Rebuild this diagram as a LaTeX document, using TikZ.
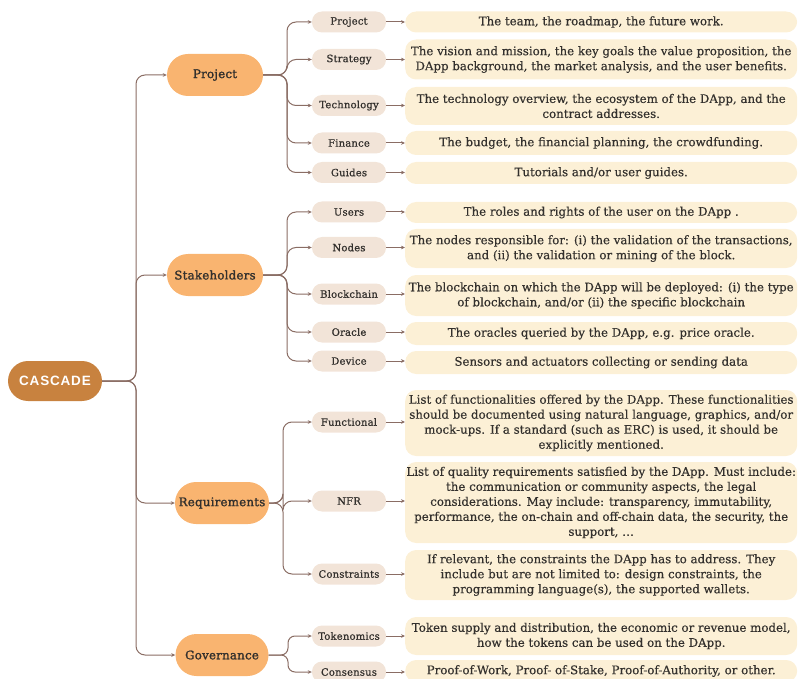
\documentclass[tikz,border=0pt]{standalone}
\usepackage{fontspec}
\setmainfont{DejaVu Serif}
\newfontfamily\rootfont[LetterSpace=6]{Liberation Sans}
\newfontfamily\notefont[FakeBold=0.4]{DejaVu Serif}
\newfontfamily\subfont[FakeBold=0.8,LetterSpace=2]{DejaVu Serif}
\newfontfamily\topicfont[FakeBold=1.6,LetterSpace=2]{DejaVu Serif}
\usetikzlibrary{arrows.meta}

\definecolor{rootfill}{HTML}{C8823F}
\definecolor{topicfill}{HTML}{F9B470}
\definecolor{subfill}{HTML}{F2E4D8}
\definecolor{notefill}{HTML}{FCF0D6}
\definecolor{linec}{HTML}{8A6D64}
\definecolor{ink}{HTML}{33302D}

\begin{document}
\begin{tikzpicture}[x=1pt,y=-1pt,
  rootnode/.style={fill=rootfill, rounded corners=20pt, minimum width=94pt,
    minimum height=40pt, inner sep=0pt, text=white,
    font=\rootfont\bfseries\fontsize{13.5}{16}\selectfont},
  topic/.style={fill=topicfill, rounded corners=21pt, minimum width=96pt,
    minimum height=42pt, inner sep=0pt, text=ink,
    font=\topicfont\fontsize{11.8}{14}\selectfont},
  sub/.style={fill=subfill, rounded corners=10pt, minimum width=74pt,
    minimum height=21pt, inner sep=0pt, text=ink,
    font=\subfont\fontsize{10}{12}\selectfont},
  note/.style={fill=notefill, rounded corners=11pt, minimum width=392pt,
    inner sep=0pt, anchor=west, align=center, text=ink,
    font=\notefont\fontsize{11.8}{15}\selectfont},
  conn/.style={draw=linec, line width=1pt, rounded corners=9pt,
    -{Stealth[length=4pt,width=3.6pt]}},
]
\useasboundingbox (0,0) rectangle (798,679);

% root and main topics
\node[rootnode] (root) at (55,381) {CASCADE};
\node[topic] (proj)  at (215,75)  {Project};
\node[topic] (stake) at (215,275) {Stakeholders};
\node[topic, minimum width=94pt] (req) at (222,503) {Requirements};
\node[topic, minimum width=93pt] (gov) at (222,655) {Governance};

% subtopics
\node[sub] (pProj)  at (349,22)    {Project};
\node[sub] (pStrat) at (349,59.5)  {Strategy};
\node[sub] (pTech)  at (349,105.5) {Technology};
\node[sub] (pFin)   at (349,143)   {Finance};
\node[sub] (pGuide) at (349,172.5) {Guides};

\node[sub] (sUsers) at (349,212)   {Users};
\node[sub] (sNodes) at (349,247.5) {Nodes};
\node[sub] (sBlock) at (349,294)   {Blockchain};
\node[sub] (sOrac)  at (349,332)   {Oracle};
\node[sub] (sDev)   at (349,361)   {Device};

\node[sub] (rFunc)  at (349,422)   {Functional};
\node[sub] (rNFR)   at (349,501)   {NFR};
\node[sub] (rCons)  at (349,574)   {Constraints};

\node[sub] (gTok)   at (349,636)   {Tokenomics};
\node[sub] (gCons)  at (349,672)   {Consensus};

% descriptions
\node[note, minimum height=21pt] (n1) at (405,22)
  {The team, the roadmap, the future work.};
\node[note, minimum height=40pt] (n2) at (405,59.5)
  {The vision and mission, the key goals the value proposition, the\\
   DApp background, the market analysis, and the user benefits.};
\node[note, minimum height=38pt] (n3) at (405,106)
  {The technology overview, the ecosystem of the DApp, and the\\
   contract addresses.};
\node[note, minimum height=24pt] (n4) at (405,143)
  {The budget, the financial planning, the crowdfunding.};
\node[note, minimum height=22pt] (n5) at (405,173)
  {Tutorials and/or user guides.};

\node[note, minimum height=21pt] (n6) at (405,212.5)
  {The roles and rights of the user on the DApp .};
\node[note, minimum height=39pt] (n7) at (405,248.5)
  {The nodes responsible for: (i) the validation of the transactions,\\
   and (ii) the validation or mining of the block.};
\node[note, minimum height=41pt] (n8) at (405,295.5)
  {The blockchain on which the DApp will be deployed: (i) the type\\
   of blockchain, and/or (ii) the specific blockchain};
\node[note, minimum height=23pt] (n9) at (405,333.5)
  {The oracles queried by the DApp, e.g. price oracle.};
\node[note, minimum height=23pt] (n10) at (405,362.5)
  {Sensors and actuators collecting or sending data};

\node[note, minimum height=66pt] (n11) at (405,423)
  {List of functionalities offered by the DApp. These functionalities\\
   should be documented using natural language, graphics, and/or\\
   mock-ups. If a standard (such as ERC) is used, it should be\\
   explicitly mentioned.};
\node[note, minimum height=81pt] (n12) at (405,502.5)
  {List of quality requirements satisfied by the DApp. Must include:\\
   the communication or community aspects, the legal\\
   considerations. May include: transparency, immutability,\\
   performance, the on-chain and off-chain data, the security, the\\
   support, \ldots};
\node[note, minimum height=50pt] (n13) at (405,575)
  {If relevant, the constraints the DApp has to address. They\\
   include but are not limited to: design constraints, the\\
   programming language(s), the supported wallets.};

\node[note, minimum height=38pt] (n14) at (405,636)
  {Token supply and distribution, the economic or revenue model,\\
   how the tokens can be used on the DApp.};
\node[note, minimum height=22pt] (n15) at (405,671)
  {Proof-of-Work, Proof- of-Stake, Proof-of-Authority, or other.};

% branching points
\coordinate (trunk) at (136,381);
\coordinate (fp) at (287,75);
\coordinate (fs) at (287,275);
\coordinate (fr) at (283,503);
\coordinate (fg) at (288,655);

% root to main topics
\foreach \t in {proj,stake,req,gov}
  \draw[conn] (root.east) -- (trunk) |- (\t.west);

% main topics to subtopics
\foreach \s in {pProj,pStrat,pTech,pFin,pGuide}
  \draw[conn] (proj.east) -- (fp) |- (\s.west);
\foreach \s in {sUsers,sNodes,sBlock,sOrac,sDev}
  \draw[conn] (stake.east) -- (fs) |- (\s.west);
\foreach \s in {rFunc,rNFR,rCons}
  \draw[conn] (req.east) -- (fr) |- (\s.west);
\foreach \s in {gTok,gCons}
  \draw[conn, rounded corners=7pt] (gov.east) -- (fg) |- (\s.west);

% subtopics to descriptions
\foreach \s/\n in {pProj/n1,pStrat/n2,pTech/n3,pFin/n4,pGuide/n5,
                   sUsers/n6,sNodes/n7,sBlock/n8,sOrac/n9,sDev/n10,
                   rFunc/n11,rNFR/n12,rCons/n13,gTok/n14,gCons/n15}
  \draw[conn] (\s.east) -- (\s.east -| \n.west);
\end{tikzpicture}
\end{document}
